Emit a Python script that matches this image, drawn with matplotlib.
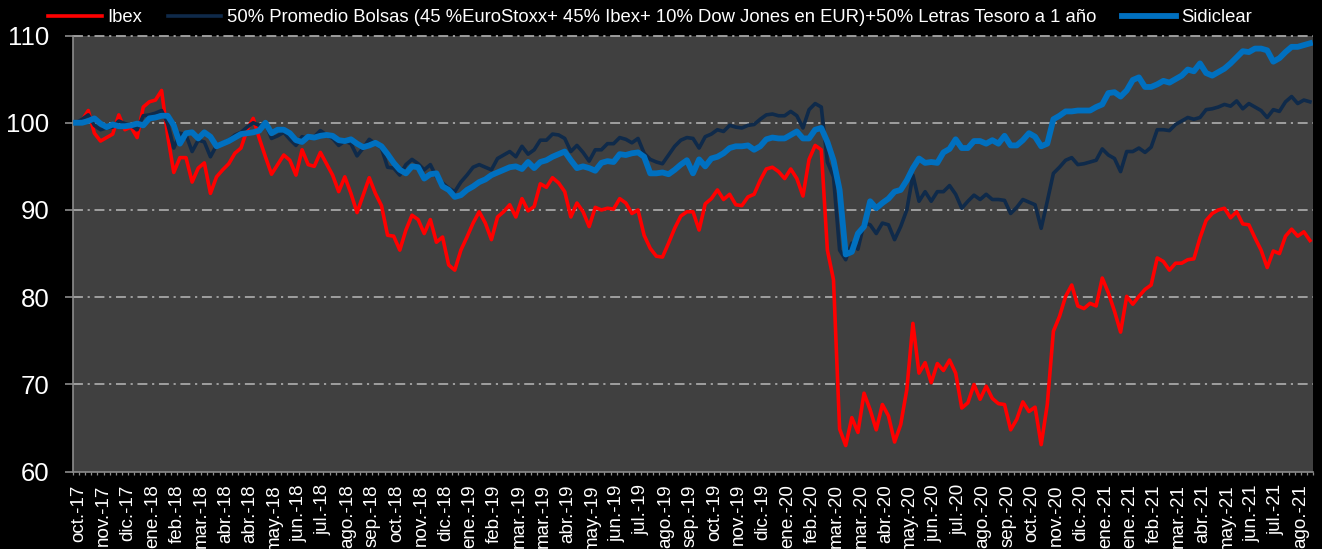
import numpy as np
import matplotlib
matplotlib.use("Agg")
import matplotlib.pyplot as plt
import matplotlib.transforms as mtransforms
from matplotlib.lines import Line2D
from matplotlib.ticker import FixedLocator

plt.rcParams['font.family'] = ['Liberation Sans', 'DejaVu Sans']

# ---------------- data ----------------
ibex = [
    100.0, 100.3, 101.4, 98.8, 97.9, 98.3, 98.7, 100.9, 99.2, 99.5, 98.3, 101.8, 102.4, 102.6, 103.7, 98.5,
    94.3, 96.0, 96.0, 93.2, 94.8, 95.4, 91.9, 93.8, 94.6, 95.3, 96.5, 97.1, 99.2, 100.5, 98.2, 96.1,
    94.1, 95.2, 96.3, 95.7,
    94.0, 96.9, 95.2, 95.0, 96.6, 95.3, 94.0, 92.1, 93.8, 91.9, 89.7, 91.7, 93.7, 91.9, 90.5, 87.1,
    87.0, 85.4, 87.7, 89.4, 88.9, 87.3, 88.9, 86.3, 86.9, 83.7, 83.1, 85.4, 86.9, 88.5, 89.8, 88.5,
    86.6, 89.2,
    89.8, 90.6, 89.2, 91.3, 89.9, 90.4, 93.0, 92.6, 93.7, 93.1, 92.1, 89.2, 90.8, 89.8, 88.1, 90.3,
    90.0, 90.2, 90.1, 91.3, 90.8, 89.6, 90.0, 87.1, 85.6, 84.7, 84.6, 86.2, 87.9, 89.3, 89.8, 89.8,
    87.7, 90.7,
    91.3, 92.3, 91.2, 91.8, 90.6, 90.5, 91.5, 91.8, 93.4, 94.7, 94.9, 94.4, 93.6, 94.7, 93.6, 91.6,
    95.8, 97.4, 96.9, 85.4, 82.0, 64.9, 63.0, 66.2, 64.5, 69.0, 67.1, 64.8, 67.7, 66.4, 63.4, 65.4,
    69.4, 77.0, 71.3,
    72.5, 70.2, 72.4, 71.6, 72.8, 71.3, 67.3, 67.9, 70.0, 68.3, 69.8, 68.4, 67.8, 67.7, 64.8, 66.0,
    68.0, 66.9, 67.4, 63.1, 67.7, 76.1, 77.8, 80.1, 81.4, 79.0, 78.7, 79.3, 79.0, 82.2,
    80.5, 78.4, 76.0, 80.1, 79.2, 80.1, 80.9, 81.4, 84.5, 84.1, 83.1, 83.9, 83.9, 84.3, 84.4, 86.8,
    88.8, 89.6, 90.0, 90.2, 89.1, 89.8, 88.4, 88.3, 86.8, 85.4, 83.4, 85.3, 85.0, 87.0, 87.8, 87.0,
    87.5, 86.5,
]

promedio = [
    100.0, 100.4, 100.9, 99.7, 99.2, 99.4, 99.5, 100.2, 99.9, 99.7, 99.2, 100.8, 100.9, 101.1, 101.4, 99.9,
    97.1, 98.8, 98.6, 96.7, 98.0, 97.8, 96.1, 97.4, 97.7, 98.0, 98.6, 98.9, 99.5, 100.0, 99.7, 99.9,
    98.2, 98.5, 98.9, 98.1,
    97.4, 98.4, 98.2, 98.4, 99.1, 98.6, 98.2, 97.4, 97.9, 97.6, 96.2, 97.1, 98.1, 97.6, 97.1, 94.9,
    94.8, 94.0, 95.2, 95.8, 95.3, 94.6, 95.2, 93.8, 93.1, 92.5, 92.1, 93.2, 94.0, 94.9, 95.2, 94.9,
    94.6, 95.9,
    96.3, 96.7, 96.1, 97.3, 96.4, 96.9, 98.0, 98.0, 98.7, 98.6, 98.2, 96.7, 97.4, 96.6, 95.6, 96.9,
    96.9, 97.6, 97.6, 98.3, 98.1, 97.7, 98.2, 96.5, 95.8, 95.5, 95.3, 96.3, 97.3, 98.0, 98.3, 98.2,
    97.1, 98.4,
    98.7, 99.2, 99.0, 99.7, 99.5, 99.4, 99.7, 99.8, 100.4, 100.9, 101.0, 100.8, 100.8, 101.3, 100.8, 99.4,
    101.5, 102.2, 101.8, 95.5, 93.8, 85.4, 84.3, 86.2, 85.5, 88.5, 88.3, 87.3, 88.5, 88.3, 86.6, 88.1,
    90.0, 94.0, 91.0,
    92.1, 91.0, 92.1, 92.1, 92.8, 91.8, 90.2, 91.0, 91.7, 91.2, 91.8, 91.2, 91.2, 91.1, 89.6, 90.3,
    91.2, 90.9, 90.6, 87.9, 91.0, 94.2, 94.9, 95.7, 96.0, 95.2, 95.3, 95.5, 95.7, 97.0,
    96.3, 95.9, 94.4, 96.7, 96.7, 97.1, 96.6, 97.2, 99.2, 99.2, 99.1, 99.8, 100.2, 100.6, 100.4, 100.6,
    101.5, 101.6, 101.8, 102.1, 101.9, 102.5, 101.6, 102.2, 101.8, 101.4, 100.6, 101.5, 101.3, 102.4, 103.0, 102.2,
    102.6, 102.4,
]

sidiclear = [
    100.0, 100.0, 100.2, 100.5, 99.9, 99.5, 99.8, 99.6, 99.6, 99.7, 99.9, 99.7, 100.5, 100.6, 100.8, 100.8,
    99.7, 97.6, 98.8, 98.9, 98.2, 98.9, 98.4, 97.3, 97.6, 97.9, 98.3, 98.7, 98.8, 98.9, 99.1, 100.0,
    98.8, 99.2, 99.2, 98.8,
    98.0, 97.8, 98.4, 98.3, 98.5, 98.6, 98.5, 98.0, 97.9, 98.1, 97.6, 97.2, 97.4, 97.7, 97.3, 96.4,
    95.4, 94.6, 94.2, 95.0, 94.9, 93.6, 94.1, 94.2, 92.7, 92.3, 91.5, 91.7, 92.3, 92.7, 93.2, 93.5,
    94.0, 94.3,
    94.6, 94.9, 95.0, 94.7, 95.5, 94.8, 95.5, 95.7, 96.1, 96.4, 96.7, 95.7, 94.8, 95.0, 94.8, 94.5,
    95.4, 95.6, 95.5, 96.4, 96.3, 96.5, 96.6, 96.1, 94.2, 94.2, 94.3, 94.1, 94.6, 95.2, 95.7, 94.2,
    95.8, 95.0,
    95.9, 96.1, 96.5, 97.1, 97.3, 97.3, 97.4, 96.9, 97.3, 98.1, 98.3, 98.2, 98.2, 98.6, 99.0, 98.2,
    98.2, 99.2, 99.4, 97.8, 95.7, 92.3, 84.9, 85.2, 87.3, 88.1, 91.0, 90.2, 90.8, 91.3, 92.1, 92.3,
    93.4, 94.8, 95.9,
    95.4, 95.5, 95.4, 96.6, 97.0, 98.1, 97.1, 97.1, 97.9, 97.9, 97.6, 98.0, 97.6, 98.5, 97.4, 97.4,
    98.0, 98.8, 98.4, 97.3, 97.6, 100.4, 100.8, 101.3, 101.3, 101.4, 101.4, 101.4, 101.8, 102.1,
    103.4, 103.5, 103.0, 103.7, 104.9, 105.2, 104.1, 104.1, 104.4, 104.8, 104.6, 105.0, 105.4, 106.1, 105.9, 106.8,
    105.7, 105.4, 105.8, 106.2, 106.8, 107.5, 108.2, 108.1, 108.5, 108.5, 108.3, 107.0, 107.4, 108.1, 108.7, 108.7,
    108.9, 109.1,
]

month_labels = [
    "oct.-17", "nov.-17", "dic.-17", "ene.-18", "feb.-18", "mar.-18", "abr.-18", "abr.-18",
    "may.-18", "jun.-18", "jul.-18", "ago.-18", "sep.-18", "oct.-18", "nov.-18", "dic.-18",
    "ene.-19", "feb.-19", "mar.-19", "mar.-19", "abr.-19", "may.-19", "jun.-19", "jul.-19",
    "ago.-19", "sep.-19", "oct.-19", "nov.-19", "dic.-19", "ene.-20", "feb.-20", "mar.-20",
    "mar.-20", "abr.-20", "may.-20", "jun.-20", "jul.-20", "ago.-20", "sep.-20", "oct.-20",
    "nov.-20", "dic.-20", "ene.-21", "ene.-21", "feb.-21", "mar.-21", "abr.-21", "may.-21",
    "jun.-21", "jul.-21", "ago.-21",
]

series_names = [
    "Ibex",
    "50% Promedio Bolsas (45 %EuroStoxx+ 45% Ibex+ 10% Dow Jones en EUR)+50% Letras Tesoro a 1 año",
    "Sidiclear",
]
label_step = 4

# ---------------- plot ----------------
n = len(ibex)
x = np.arange(n)

fig = plt.figure(figsize=(13.22, 5.49), dpi=100, facecolor="black")
ax = fig.add_axes([73 / 1322, 1 - 471.7 / 549, (1313 - 73) / 1322, (471.7 - 35.5) / 549])
ax.set_facecolor("#404040")

c_red, c_navy, c_blue = "#FF0000", "#0F2A4A", "#0070C0"
ax.plot(x, ibex, color=c_red, lw=2.6, solid_joinstyle="round", zorder=3)
ax.plot(x, promedio, color=c_navy, lw=2.6, solid_joinstyle="round", zorder=4)
ax.plot(x, sidiclear, color=c_blue, lw=4.2, solid_joinstyle="round", zorder=5)

ax.set_xlim(-0.5, n - 0.5)
ax.set_ylim(60, 110)

# grid
for yv in [70, 80, 90, 100, 110]:
    ax.axhline(yv, color="#A6A6A6", lw=1.3, dashes=(5.5, 2.6, 1.2, 2.6), zorder=1, clip_on=False)

# spines
for s in ["top", "right"]:
    ax.spines[s].set_visible(False)
for s in ["left", "bottom"]:
    ax.spines[s].set_color("#8C8C8C")
    ax.spines[s].set_linewidth(1.2)

# y ticks
ax.set_yticks([60, 70, 80, 90, 100, 110])
ax.tick_params(axis="y", colors="#8C8C8C", length=6, width=1.2, direction="out", pad=11,
               labelcolor="white", labelsize=18.5)

# x ticks
label_pos = np.arange(0, n, label_step)[:len(month_labels)]
ax.xaxis.set_major_locator(FixedLocator(label_pos))
ax.set_xticklabels(month_labels, rotation=90, color="white", fontsize=13.5, va="top", ha="center")
ax.xaxis.set_minor_locator(FixedLocator(np.arange(-0.5, n, 1.0)))
ax.tick_params(axis="x", which="major", length=0, pad=9)
ax.tick_params(axis="x", which="minor", length=2.5, width=0.9, color="#8C8C8C", direction="out")
shift = mtransforms.ScaledTranslation(3 / 100, 0, fig.dpi_scale_trans)
for lbl in ax.get_xticklabels():
    lbl.set_transform(lbl.get_transform() + shift)

# legend
handles = [
    Line2D([], [], color=c_red, lw=2.6),
    Line2D([], [], color=c_navy, lw=2.6),
    Line2D([], [], color=c_blue, lw=4.2),
]
leg = fig.legend(handles, series_names, loc="center", bbox_to_anchor=(650 / 1322, 1 - 18 / 549),
                 ncol=3, frameon=False, fontsize=13.3, handlelength=2.9, handletextpad=0.3,
                 columnspacing=1.4)
for t in leg.get_texts():
    t.set_color("white")

fig.savefig("out.png", dpi=100, facecolor="black")
